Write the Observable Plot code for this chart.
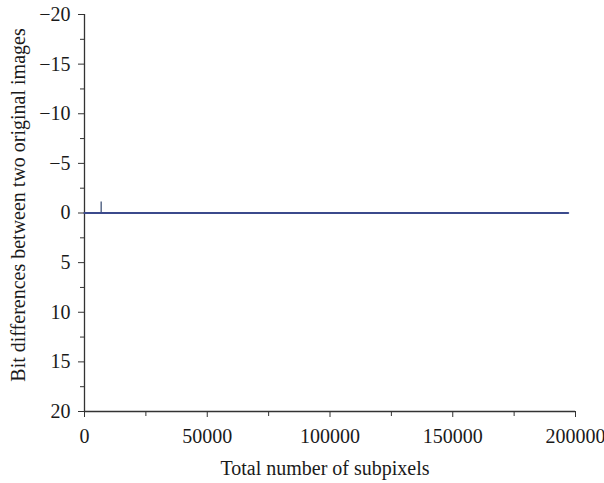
<!DOCTYPE html>
<html><head><meta charset="utf-8">
<script src="https://cdn.jsdelivr.net/npm/d3@7"></script>
<script src="https://cdn.jsdelivr.net/npm/@observablehq/plot@0.6"></script>
<style>body{margin:0;background:#fff}</style>
</head><body><div id="chart"></div>
<script>
const xMajor = [0, 50000, 100000, 150000, 200000];
const xMinor = [25000, 75000, 125000, 175000];
const yMajor = [-20, -15, -10, -5, 0, 5, 10, 15, 20];
const yMinor = [-17.5, -12.5, -7.5, -2.5, 2.5, 7.5, 12.5, 17.5];
const lineX = [0, 197000];
const lineY = [0, 0];
const spikeX = [6800];
const spikeY = [-1.1];
const xTitle = "Total number of subpixels";
const yTitle = "Bit differences between two original images";

const lineData = lineX.map((x, i) => ({x, y: lineY[i]}));
const spikeData = spikeX.map((x, i) => ({x, y: spikeY[i]}));
const font = "'Liberation Serif', 'Times New Roman', serif";

const chart = Plot.plot({
  width: 604, height: 483,
  marginLeft: 84, marginRight: 29, marginTop: 14, marginBottom: 72,
  style: {fontFamily: font, fontSize: "20px", color: "#1a1a1a", background: "#fff"},
  x: {domain: [0, 200000]},
  y: {domain: [-20, 20], reverse: true},
  marks: [
    Plot.axisX(xMajor, {tickSize: 6, tickPadding: 11, tickFormat: d => String(d), label: null, fontSize: 20, stroke: "#333"}),
    Plot.axisX(xMinor, {tickSize: 5, tickFormat: () => "", label: null, stroke: "#333"}),
    Plot.axisY(yMajor, {tickSize: 6, tickPadding: 8, tickFormat: d => d < 0 ? "\u2212" + Math.abs(d) : String(d), label: null, fontSize: 20, stroke: "#333"}),
    Plot.axisY(yMinor, {tickSize: 4, tickFormat: () => "", label: null, stroke: "#333"}),
    Plot.text([xTitle], {frameAnchor: "bottom", textAnchor: "middle", lineAnchor: "middle", dx: -5, dy: 57, fontSize: 20, fill: "#1a1a1a"}),
    Plot.text([yTitle], {frameAnchor: "left", textAnchor: "middle", lineAnchor: "middle", dx: -66, dy: -8, rotate: -90, fontSize: 20, fill: "#1a1a1a"}),
    Plot.ruleX([0], {stroke: "#333", strokeWidth: 1.3}),
    Plot.ruleY([20], {stroke: "#333", strokeWidth: 1.3}),
    Plot.ruleX(spikeData, {x: "x", y1: 0, y2: "y", stroke: "#5a6a8a", strokeWidth: 1.5}),
    Plot.line(lineData, {x: "x", y: "y", stroke: "#3b4a8c", strokeWidth: 2.2})
  ]
});
document.getElementById("chart").appendChild(chart);
</script>
</body></html>
